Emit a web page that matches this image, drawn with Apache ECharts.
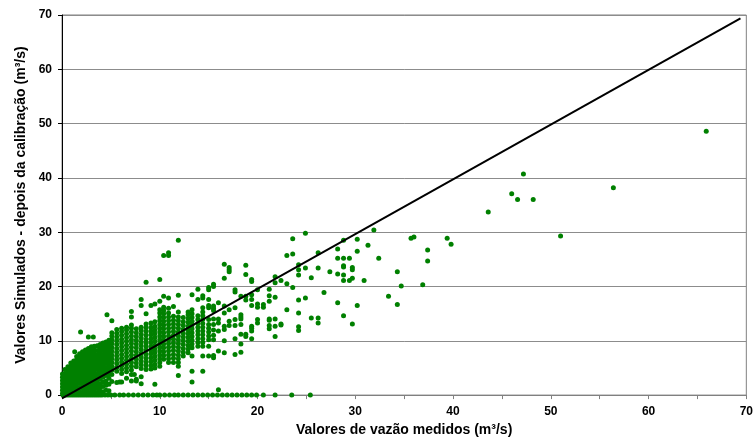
<!DOCTYPE html>
<html>
<head>
<meta charset="utf-8">
<script src="https://cdn.jsdelivr.net/npm/echarts@6/dist/echarts.min.js"></script>
<style>
  html, body { margin: 0; padding: 0; background: #fff; }
  #chart { width: 756px; height: 442px; }
</style>
</head>
<body>
<div id="chart"></div>
<script>
// medidos (x) vs simulados (y)
// dense part: one column per measured value, list of simulated values
const lowCols = [
  [0.05, [0.3, 0.9, 1.5, 2.1, 2.7, 3.3, 3.9]],
  [0.3, [0.4, 1.0, 1.6, 2.2, 2.8, 3.4, 4.0, 4.7]],
  [0.6, [0.3, 0.9, 1.5, 2.1, 2.7, 3.3, 3.9, 4.5, 5.2]],
  [0.9, [0.5, 1.1, 1.7, 2.3, 2.9, 3.5, 4.1, 4.7, 5.3, 5.9]],
  [1.2, [0.4, 1.2, 1.9, 2.6, 3.2, 3.8, 4.4, 5.0, 5.6, 6.3]],
  [1.5, [0.5, 1.3, 2.0, 2.7, 3.4, 4.1, 4.7, 5.3, 5.9, 6.5, 7.1]],
  [1.8, [0.6, 1.4, 2.2, 2.9, 3.6, 4.3, 5.0, 5.7, 6.4, 7.0, 7.6]],
  [2.1, [0.5, 1.2, 1.9, 2.6, 3.3, 4.0, 4.7, 5.4, 6.1, 6.7, 7.3, 8.0]],
  [2.4, [0.4, 1.0, 1.6, 2.2, 2.9, 3.6, 4.3, 5.0, 5.7, 6.4, 7.1, 7.8, 8.3]],
  [2.7, [0.5, 1.2, 1.8, 2.4, 3.1, 3.8, 4.5, 5.2, 5.9, 6.6, 7.3, 8.0, 8.6]],
  [3.0, [0.4, 1.1, 1.8, 2.5, 3.2, 3.9, 4.6, 5.3, 6.0, 6.7, 7.4, 8.1, 8.9]],
  [3.3, [0.6, 1.3, 2.0, 2.7, 3.4, 4.1, 4.8, 5.5, 6.2, 6.9, 7.6, 8.3, 9.0]],
  [3.6, [0.5, 1.2, 1.9, 2.6, 3.3, 4.0, 4.7, 5.4, 6.1, 6.8, 7.5, 8.2, 9.1]],
  [3.9, [0.7, 1.4, 2.1, 2.9, 3.8, 4.5, 5.2, 5.9, 6.6, 7.3, 8.0, 8.7, 9.3]],
  [4.2, [0.6, 1.6, 2.4, 3.3, 4.0, 4.7, 5.4, 6.1, 6.8, 7.5, 8.2, 8.9, 9.6]],
  [4.5, [0.9, 1.8, 2.6, 3.6, 4.4, 5.1, 5.8, 6.5, 7.2, 7.9, 8.6, 9.2, 9.8]],
  [4.8, [0.8, 2.0, 3.1, 3.9, 4.6, 5.3, 6.0, 6.7, 7.4, 8.1, 8.8, 9.5, 10.1]]
];

const midCols = [
  [5.1, [2.5, 3.8, 4.6, 5.3, 6.0, 6.7, 7.4, 8.1, 8.8, 9.5, 10.2, 10.9, 11.5, 13.7]],
  [5.6, [2.3, 4.4, 5.1, 5.8, 6.5, 7.2, 7.9, 8.6, 9.3, 10.0, 10.7, 11.4, 12.1]],
  [6.1, [2.4, 4.0, 4.7, 5.4, 6.1, 6.8, 7.5, 8.2, 8.9, 9.6, 10.3, 11.0, 11.7, 12.3]],
  [6.6, [3.1, 4.3, 5.0, 5.7, 6.4, 7.1, 7.8, 8.5, 9.2, 9.9, 10.6, 11.3, 12.0, 12.5]],
  [7.1, [2.6, 3.8, 4.6, 5.3, 6.0, 6.7, 7.4, 8.1, 8.8, 9.5, 10.2, 10.9, 11.6, 12.3, 12.9, 14.4, 15.4]],
  [7.6, [2.9, 5.2, 5.9, 6.6, 7.3, 8.0, 8.7, 9.4, 10.1, 10.8, 11.5, 12.2]],
  [8.1, [2.1, 3.4, 4.9, 5.6, 6.3, 7.0, 7.7, 8.4, 9.1, 9.8, 10.5, 11.2, 11.9, 12.5, 16.5, 17.6]],
  [8.6, [4.7, 5.4, 6.1, 6.8, 7.5, 8.2, 8.9, 9.6, 10.3, 11.0, 11.7, 12.4, 13.1, 15.0, 20.8]],
  [9.1, [4.8, 5.5, 6.2, 6.9, 7.6, 8.3, 9.0, 9.7, 10.4, 11.1, 11.8, 12.5, 13.3, 16.5]],
  [9.5, [2.0, 5.0, 5.7, 6.4, 7.1, 7.8, 8.5, 9.2, 9.9, 10.6, 11.3, 12.0, 12.7, 13.5, 16.8]],
  [10.0, [5.3, 6.0, 6.7, 7.4, 8.1, 8.8, 9.5, 10.2, 10.9, 11.6, 12.3, 13.0, 13.7, 14.4, 15.1, 15.7, 17.3, 21.3]],
  [10.4, [6.6, 7.3, 8.0, 8.7, 9.4, 10.1, 10.8, 11.5, 12.2, 12.9, 13.6, 14.3, 15.0, 15.6, 16.2, 18.2, 25.7]],
  [10.9, [6.0, 6.7, 7.4, 8.1, 8.8, 9.5, 10.2, 10.9, 11.6, 12.3, 13.0, 13.7, 14.4, 15.1, 16.0, 17.9, 25.7, 26.2]],
  [11.4, [6.0, 6.8, 7.5, 8.2, 8.9, 9.6, 10.3, 11.0, 11.7, 12.4, 13.1, 13.8, 14.5, 16.3]],
  [11.9, [3.6, 5.3, 6.0, 6.7, 7.4, 8.1, 8.8, 9.5, 10.2, 10.9, 11.6, 12.3, 13.0, 13.7, 14.4, 15.3, 18.4, 28.5]],
  [12.4, [7.2, 7.9, 8.6, 9.3, 10.0, 10.7, 11.4, 12.1, 12.8, 13.5, 14.3]],
  [12.9, [7.8, 8.5, 9.2, 9.9, 10.6, 11.3, 12.0, 12.7, 13.4, 14.1, 14.8, 15.3]],
  [13.3, [2.4, 4.4, 7.2, 8.7, 9.4, 10.1, 10.8, 11.5, 12.2, 12.9, 13.6, 14.3, 15.0, 15.7, 18.5]],
  [13.9, [9.0, 9.7, 10.4, 11.1, 11.8, 12.5, 13.2, 13.9, 14.6, 17.6, 19.5]],
  [14.4, [4.4, 7.2, 9.0, 9.7, 10.4, 11.1, 11.8, 12.5, 13.2, 13.9, 14.6, 15.3, 16.1, 17.9, 18.3]],
  [15.0, [7.2, 9.0, 10.2, 10.9, 11.6, 12.3, 13.0, 13.9, 16.1, 16.5, 17.6, 19.4, 19.8]],
  [15.5, [6.9, 7.3, 10.2, 11.0, 12.0, 13.0, 14.0, 15.6, 16.0, 16.4, 20.0, 20.4]]
];

const outliersLow = [[1.9, 11.6], [4.6, 14.8], [2.7, 10.7], [3.2, 10.7], [1.3, 8.0], [5.9, 2.4], [7.4, 3.8], [7.6, 2.6]];

const sparsePts = [
  [16.0, 17.0], [16.0, 14.0], [16.0, 13.3], [16.0, 11.8], [16.0, 8.1], [16.0, 1.0],
  [16.6, 24.1], [16.6, 21.5], [16.6, 16.4], [16.6, 15.1], [16.6, 12.7], [16.6, 12.1], [16.6, 10.0], [16.6, 7.8],
  [17.1, 23.5], [17.1, 23.1], [17.1, 22.7], [17.1, 15.7], [17.1, 13.6], [17.1, 12.8],
  [17.7, 19.4], [17.7, 19.0], [17.7, 16.1], [17.7, 13.9], [17.7, 12.8], [17.7, 10.4], [17.7, 7.5],
  [18.3, 18.2], [18.3, 14.8], [18.3, 14.4], [18.3, 14.0], [18.3, 13.0], [18.3, 11.2], [18.3, 9.4], [18.3, 7.9],
  [18.8, 23.9], [18.8, 22.2], [18.8, 18.2], [18.8, 17.5], [18.8, 11.2], [18.8, 10.8],
  [19.4, 21.3], [19.4, 20.9], [19.4, 18.5], [19.4, 17.6], [19.4, 16.5], [19.4, 12.7], [19.4, 12.3], [19.4, 11.8], [19.4, 10.4],
  [20.0, 19.4], [20.0, 16.8], [20.0, 16.2], [20.0, 13.9], [20.0, 13.3],
  [20.6, 16.7], [20.6, 16.2],
  [21.2, 19.5], [21.2, 18.3], [21.2, 17.3], [21.2, 14.0], [21.2, 13.8], [21.2, 12.8], [21.2, 12.2],
  [21.8, 21.8], [21.8, 20.7], [21.8, 18.0], [21.8, 14.0], [21.8, 12.7], [21.8, 10.8],
  [22.4, 21.1], [22.4, 13.1], [22.4, 12.9],
  [23.0, 25.7], [23.0, 20.5], [23.0, 15.7],
  [23.6, 28.8], [23.6, 26.0], [23.6, 19.8],
  [24.2, 24.0], [24.2, 23.1], [24.2, 22.1], [24.2, 17.5], [24.2, 15.1], [24.2, 12.6], [24.2, 11.9],
  [24.9, 29.8], [24.9, 23.4], [24.9, 17.9],
  [25.5, 21.6], [25.5, 14.2],
  [26.2, 26.2], [26.2, 23.4], [26.2, 14.2], [26.2, 13.3],
  [26.8, 18.9], [27.4, 22.7],
  [28.2, 26.9], [28.2, 25.2], [28.2, 22.3], [28.2, 17.0],
  [28.8, 28.5], [28.8, 25.2], [28.8, 23.8], [28.8, 23.6], [28.8, 22.1], [28.8, 21.1], [28.8, 14.6],
  [29.4, 25.2], [29.4, 21.1],
  [29.7, 23.5], [29.7, 23.1], [29.7, 21.5], [29.7, 13.1],
  [30.2, 28.7], [30.2, 26.5], [30.2, 16.5],
  [30.9, 21.1], [31.3, 27.6], [31.9, 30.4], [32.4, 25.2], [33.4, 18.2],
  [34.3, 22.7], [34.3, 16.7], [34.7, 20.1],
  [35.7, 28.9], [36.0, 29.1], [36.9, 20.3], [37.4, 26.7], [37.4, 24.7],
  [39.4, 28.9], [39.8, 27.8],
  [43.6, 33.7], [46.0, 37.1], [46.6, 36.0], [47.2, 40.7], [48.2, 36.0],
  [51.0, 29.3], [56.4, 38.2], [65.9, 48.6]
];

// simulated = 0 for these measured values
const zeroX = [0.1, 0.3, 0.5, 0.7, 0.9, 1.1, 1.3, 1.5, 1.7, 1.9, 2.1, 2.3, 2.5, 2.7, 2.9, 3.1, 3.3, 3.5,
  3.7, 3.9, 4.1, 4.4, 4.7, 5.0, 5.4, 5.9, 6.3, 6.8, 7.3, 7.8, 8.3, 8.8, 9.3, 9.7,
  10.0, 10.5, 11.0, 11.5, 11.9, 12.4, 12.9, 13.4, 13.9, 14.4, 14.9, 15.4, 15.9, 16.4, 16.9,
  17.4, 17.9, 18.4, 18.9, 19.4, 19.9, 20.6, 21.8, 23.5, 25.4];

// reta 1:1
const lineX = [0, 69.4];
const lineY = [-0.6, 69.4];

const pts = []
  .concat(lowCols.flatMap(c => c[1].map(y => [c[0], y])))
  .concat(midCols.flatMap(c => c[1].map(y => [c[0], y])))
  .concat(outliersLow)
  .concat(sparsePts)
  .concat(zeroX.map(x => [x, 0]));

const font = "'Liberation Sans', Arial, sans-serif";

const chart = echarts.init(document.getElementById("chart"));
chart.setOption({
  backgroundColor: "#fff",
  animation: false,
  grid: {
    left: 62,
    right: 7,
    top: 15,
    bottom: 46,
    show: true,
    borderColor: "#808080",
    borderWidth: 1
  },
  xAxis: {
    type: "value",
    min: 0,
    max: 70,
    interval: 10,
    name: "Valores de vazão medidos (m³/s)",
    nameLocation: "middle",
    nameGap: 25,
    nameTextStyle: { color: "#000", fontWeight: "bold", fontSize: 14, fontFamily: font },
    axisLine: { show: true, lineStyle: { color: "#808080", width: 1 } },
    axisTick: { show: true, length: 4, lineStyle: { color: "#808080" } },
    minorTick: { show: true, splitNumber: 2, length: 4, lineStyle: { color: "#808080" } },
    splitLine: { show: false },
    axisLabel: { margin: 11, color: "#000", fontWeight: "bold", fontSize: 12, fontFamily: font }
  },
  yAxis: {
    type: "value",
    min: 0,
    max: 70,
    interval: 10,
    name: "Valores Simulados - depois da calibração (m³/s)",
    nameLocation: "middle",
    nameGap: 34,
    nameTextStyle: { color: "#000", fontWeight: "bold", fontSize: 14, fontFamily: font },
    axisLine: { show: true, lineStyle: { color: "#000", width: 1 } },
    axisTick: { show: true, length: 4, lineStyle: { color: "#000" } },
    splitLine: { show: true, lineStyle: { color: "#8c8c8c", width: 1 } },
    axisLabel: { margin: 10, color: "#000", fontWeight: "bold", fontSize: 12, fontFamily: font }
  },
  series: [
    {
      type: "scatter",
      data: pts,
      symbol: "circle",
      symbolSize: 5,
      itemStyle: { color: "#008000", opacity: 1 },
      z: 2
    },
    {
      type: "line",
      data: lineX.map((x, i) => [x, lineY[i]]),
      symbol: "none",
      clip: false,
      lineStyle: { color: "#000", width: 2 },
      z: 3
    }
  ]
});
</script>
</body>
</html>
